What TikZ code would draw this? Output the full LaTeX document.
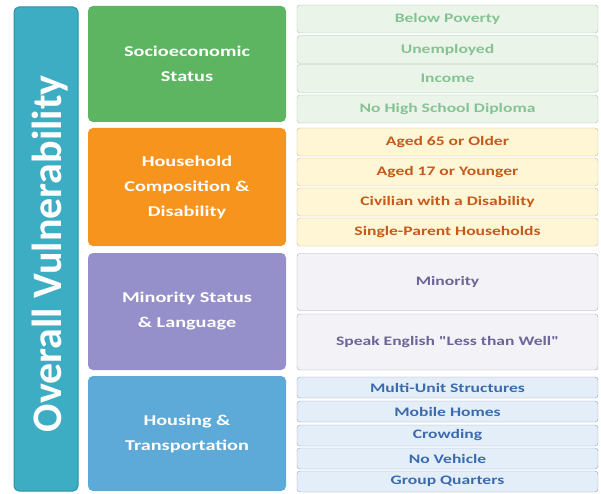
\documentclass[tikz,border=0pt]{standalone}
\usepackage{fontspec}
\setmainfont{Carlito}
\newfontfamily\widefont[FakeStretch=1.35]{Carlito}
\definecolor{teal}{HTML}{3CADC2}
\definecolor{tealedge}{HTML}{2E8FA3}
\definecolor{segreen}{HTML}{5DB561}
\definecolor{hhorange}{HTML}{F7941E}
\definecolor{mspurple}{HTML}{958FCA}
\definecolor{htblue}{HTML}{5DA9D8}
% variable boxes: fill, edge, text
\definecolor{sefill}{HTML}{EAF4E9}\definecolor{sedraw}{HTML}{A9C4A8}\definecolor{setext}{HTML}{86C394}
\definecolor{hhfill}{HTML}{FFF6D6}\definecolor{hhdraw}{HTML}{D2B48C}\definecolor{hhtext}{HTML}{C55A1C}
\definecolor{msfill}{HTML}{F3F2F7}\definecolor{msdraw}{HTML}{A9A7B5}\definecolor{mstext}{HTML}{6C6597}
\definecolor{htfill}{HTML}{E4EEF8}\definecolor{htdraw}{HTML}{8DA3BE}\definecolor{httext}{HTML}{3A6BAF}
\tikzset{
  cat/.style={rounded corners=5pt, fill=#1, minimum width=198pt, align=center,
    text=white, font=\widefont\bfseries\fontsize{15}{25}\selectfont},
  item/.style={rounded corners=3pt, minimum width=301pt, draw=#1draw, fill=#1fill, text=#1text,
    font=\widefont\bfseries\fontsize{13}{15}\selectfont},
}
\begin{document}
\begin{tikzpicture}[x=1pt, y=-1pt]
  \useasboundingbox (0,0) rectangle (601,494);
  % overall bar
  \node[rounded corners=5pt, fill=teal, draw=tealedge, line width=1pt,
        minimum width=64pt, minimum height=484pt] (overall) at (46,249) {};
  \node[rotate=90, text=white, font=\bfseries\fontsize{42}{46}\selectfont] (overalltxt) at (50,254) {Overall Vulnerability};
  % themes
  \node[cat=segreen, minimum height=116pt] (ses) at (187,64) {Socioeconomic\\Status};
  \node[cat=hhorange, minimum height=118pt] (hcd) at (187,187) {Household\\Composition \&\\Disability};
  \node[cat=mspurple, minimum height=117pt] (msl) at (187,311.5) {Minority Status\\\& Language};
  \node[cat=htblue, minimum height=115pt] (ht) at (187,433.5) {Housing \&\\Transportation};
  % socioeconomic variables
  \node[item=se, minimum height=28pt] (pov) at (447.5,19) {Below Poverty};
  \node[item=se, minimum height=28pt] (unemp) at (447.5,49.5) {Unemployed};
  \node[item=se, minimum height=28pt] (inc) at (447.5,78.5) {Income};
  \node[item=se, minimum height=28pt] (nohs) at (447.5,109) {No High School Diploma};
  % household composition variables
  \node[item=hh, minimum height=28pt] (age65) at (447.5,142) {Aged 65 or Older};
  \node[item=hh, minimum height=28pt] (age17) at (447.5,172) {Aged 17 or Younger};
  \node[item=hh, minimum height=28pt] (disabl) at (447.5,202) {Civilian with a Disability};
  \node[item=hh, minimum height=28pt] (sngpnt) at (447.5,232) {Single-Parent Households};
  % minority variables
  \node[item=ms, minimum height=57pt] (minrty) at (447.5,282) {Minority};
  \node[item=ms, minimum height=56pt] (limeng) at (447.5,342) {Speak English "Less than Well"};
  % housing variables
  \node[item=ht, minimum height=21pt] (munit) at (447.5,387.5) {Multi-Unit Structures};
  \node[item=ht, minimum height=21pt] (mobile) at (447.5,411.5) {Mobile Homes};
  \node[item=ht, minimum height=21pt] (crowd) at (447.5,435.5) {Crowding};
  \node[item=ht, minimum height=21pt] (noveh) at (447.5,458.5) {No Vehicle};
  \node[item=ht, minimum height=21pt] (groupq) at (447.5,481.5) {Group Quarters};
\end{tikzpicture}
\end{document}
